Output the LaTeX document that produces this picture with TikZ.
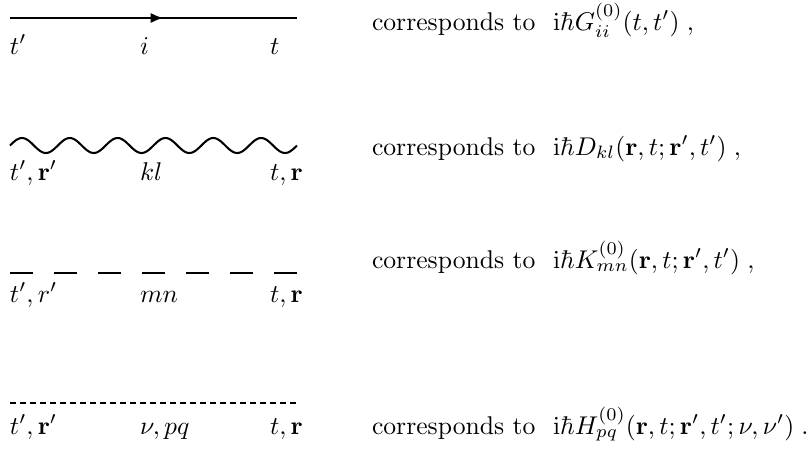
\documentclass[tikz,border=0pt]{standalone}
\usetikzlibrary{arrows.meta,decorations.markings}
\begin{document}
\begin{tikzpicture}[x=0.39pt,y=-0.39pt,
  lbl/.style={anchor=base west,inner sep=0pt,outer sep=0pt},
  fermion/.style={line width=1.1pt,
    postaction={decorate},
    decoration={markings,mark=at position 0.535 with {\arrow{Latex[length=5pt,width=4pt]}}}},
  photon/.style={line width=0.8pt},
  longdash/.style={line width=0.85pt,dash pattern=on 8.97pt off 8.19pt},
  shortdash/.style={line width=0.85pt,dash pattern=on 2.34pt off 1.56pt}]
\useasboundingbox (0,0) rectangle (812,448);

% row 1
\coordinate (a1) at (10,18);
\coordinate (b1) at (297,18);
\draw[fermion] (a1) -- (b1);
\node[lbl] (l1a) at (10,54) {$t'$};
\node[lbl] (l1b) at (140,54) {$i$};
\node[lbl] (l1c) at (270,54) {$t$};
\node[lbl] (c1) at (372,30) {corresponds to};
\node[lbl] (f1) at (553,30) {$\mathrm{i}\hbar G^{(0)}_{ii}(t,t')\;,$};

% row 2
\coordinate (a2) at (10,145.5);
\coordinate (b2) at (297,145.5);
\draw[photon,shift={(a2)}] plot[domain=0:287,samples=200,smooth] (\x,{-7.5*sin(7.5262*\x)});
\node[lbl] (l2a) at (10,180) {$t',\mathbf{r}'$};
\node[lbl] (l2b) at (140,180) {$kl$};
\node[lbl] (l2c) at (270,180) {$t,\mathbf{r}$};
\node[lbl] (c2) at (372,155) {corresponds to};
\node[lbl] (f2) at (553,155) {$\mathrm{i}\hbar D_{kl}(\mathbf{r},t;\mathbf{r}',t')\;,$};

% row 3
\coordinate (a3) at (10,273);
\coordinate (b3) at (297,273);
\draw[longdash] (a3) -- (b3);
\node[lbl] (l3a) at (10,302) {$t',r'$};
\node[lbl] (l3b) at (140,302) {$mn$};
\node[lbl] (l3c) at (270,302) {$t,\mathbf{r}$};
\node[lbl] (c3) at (372,268) {corresponds to};
\node[lbl] (f3) at (553,268) {$\mathrm{i}\hbar K^{(0)}_{mn}(\mathbf{r},t;\mathbf{r}',t')\;,$};

% row 4
\coordinate (a4) at (10,403);
\coordinate (b4) at (297,403);
\draw[shortdash] (a4) -- (b4);
\node[lbl] (l4a) at (10,434) {$t',\mathbf{r}'$};
\node[lbl] (l4b) at (140,434) {$\nu,pq$};
\node[lbl] (l4c) at (270,434) {$t,\mathbf{r}$};
\node[lbl] (c4) at (372,434) {corresponds to};
\node[lbl] (f4) at (553,434) {$\mathrm{i}\hbar H^{(0)}_{pq}(\mathbf{r},t;\mathbf{r}',t';\nu,\nu')\;.$};
\end{tikzpicture}
\end{document}
